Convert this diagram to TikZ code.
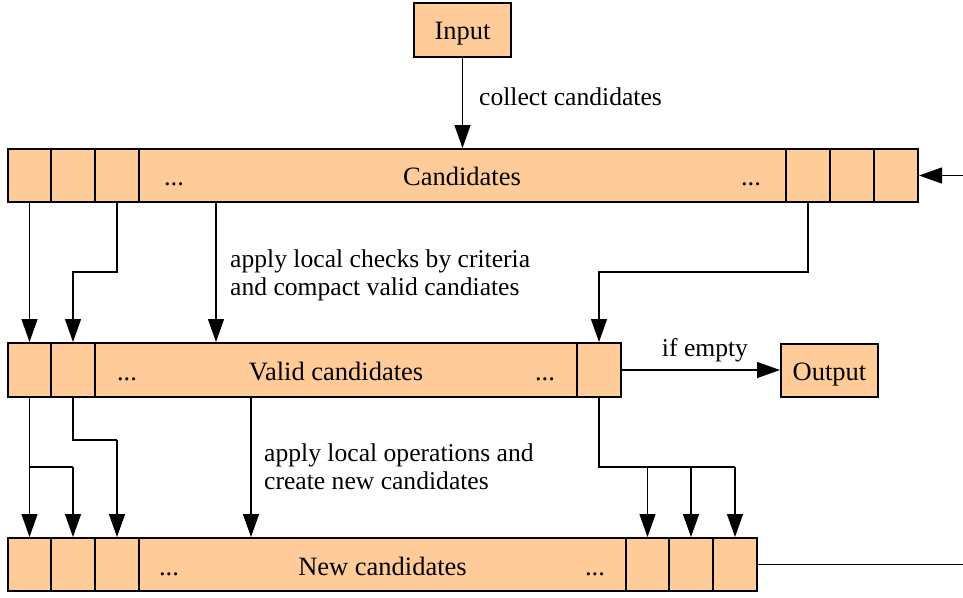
\documentclass[tikz,border=0pt]{standalone}
\usepackage{fontspec}
\setmainfont{Liberation Serif}
\usetikzlibrary{arrows.meta}
\definecolor{peach}{RGB}{255,204,153}
\tikzset{
  cell/.style={draw=black, line width=2pt, fill=peach, inner sep=0pt, minimum height=53pt},
  boxtext/.style={inner sep=0pt, anchor=base, font=\fontsize{26.5}{30}\selectfont},
  lbl/.style={inner sep=0pt, align=left, font=\fontsize{25.6}{28}\selectfont},
  conn/.style={line width=1.3pt},
  arr/.style={conn, -{Triangle[length=23pt,width=16pt]}}
}
\begin{document}
\begin{tikzpicture}[x=1pt,y=-1pt]
\useasboundingbox (0,0) rectangle (963,597);
% Input
\node[cell, minimum width=97pt, minimum height=54pt] (in) at (462.5,30) {};
\node[boxtext] (intext) at (462.5,39) {Input};
% Candidates row
\node[cell, minimum width=43pt] (c1) at (29.5,175.5) {};
\node[cell, minimum width=44pt] (c2) at (73,175.5) {};
\node[cell, minimum width=44pt] (c3) at (117,175.5) {};
\node[cell, minimum width=647pt] (cmain) at (462.5,175.5) {};
\node[cell, minimum width=44pt] (cr1) at (808,175.5) {};
\node[cell, minimum width=44pt] (cr2) at (852,175.5) {};
\node[cell, minimum width=44pt] (cr3) at (896,175.5) {};
\node[boxtext] (ctext) at (462,185) {Candidates};
\node[boxtext] (cdl) at (174,185) {...};
\node[boxtext] (cdr) at (751,185) {...};
% Valid row
\node[cell, minimum width=43pt, minimum height=54pt] (v1) at (29.5,370) {};
\node[cell, minimum width=44pt, minimum height=54pt] (v2) at (73,370) {};
\node[cell, minimum width=482pt, minimum height=54pt] (vmain) at (336,370) {};
\node[cell, minimum width=44pt, minimum height=54pt] (vr1) at (599,370) {};
\node[boxtext] (vtext) at (336,380) {Valid candidates};
\node[boxtext] (vdl) at (127,380) {...};
\node[boxtext] (vdr) at (545,380) {...};
% Output
\node[cell, minimum width=97pt] (out) at (829.5,370) {};
\node[boxtext] (outtext) at (829.5,380) {Output};
% New row
\node[cell, minimum width=43pt] (n1) at (29.5,564.5) {};
\node[cell, minimum width=44pt] (n2) at (73,564.5) {};
\node[cell, minimum width=44pt] (n3) at (117,564.5) {};
\node[cell, minimum width=487pt] (nmain) at (382.5,564.5) {};
\node[cell, minimum width=43pt] (nr1) at (647.5,564.5) {};
\node[cell, minimum width=44pt] (nr2) at (691,564.5) {};
\node[cell, minimum width=44pt] (nr3) at (735,564.5) {};
\node[boxtext] (ntext) at (382.5,575) {New candidates};
\node[boxtext] (ndl) at (169,575) {...};
\node[boxtext] (ndr) at (595,575) {...};
% helper coordinates
\coordinate (k1) at (0,272);
\coordinate (k2) at (0,467);
\coordinate (k3) at (0,440);
\coordinate (xa) at (216,0);
\coordinate (xb) at (251,0);
\coordinate (loopin) at (963,175.5);
\coordinate (loopout) at (963,564.5);
% Input -> Candidates
\draw[arr] (in.south) -- (cmain.north);
\node[lbl, anchor=west] (l1) at (479,97) {collect candidates};
% Candidates -> Valid
\draw[arr] (c1.south) -- (v1.north);
\draw[arr] (c3.south) -- (c3.south |- k1) -| (v2.north);
\draw[arr] (cmain.south -| xa) -- (vmain.north -| xa);
\draw[arr] (cr1.south) -- (cr1.south |- k1) -| (vr1.north);
\node[lbl, anchor=west] (l2) at (230,275) {apply local checks by criteria\\and compact valid candiates};
% Valid -> Output
\draw[arr] (vr1.east) -- (out.west);
\node[lbl] (l3) at (705,350) {if empty};
% Valid -> New
\draw[arr] (v1.south) -- (n1.north);
\draw[conn] (v1.south |- k2) -- (n2.north |- k2);
\draw[arr] (n2.north |- k2) -- (n2.north);
\draw[conn] (v2.south) -- (v2.south |- k3) -- (n3.north |- k3);
\draw[arr] (n3.north |- k3) -- (n3.north);
\draw[arr] (vmain.south -| xb) -- (nmain.north -| xb);
\node[lbl, anchor=west] (l4) at (264,467) {apply local operations and\\create new candidates};
\draw[conn] (vr1.south) -- (vr1.south |- k2) -- (nr3.north |- k2);
\draw[arr] (nr1.north |- k2) -- (nr1.north);
\draw[arr] (nr2.north |- k2) -- (nr2.north);
\draw[arr] (nr3.north |- k2) -- (nr3.north);
% loop
\draw[arr] (loopin) -- (cr3.east);
\draw[conn] (nr3.east) -- (loopout);
\end{tikzpicture}
\end{document}
